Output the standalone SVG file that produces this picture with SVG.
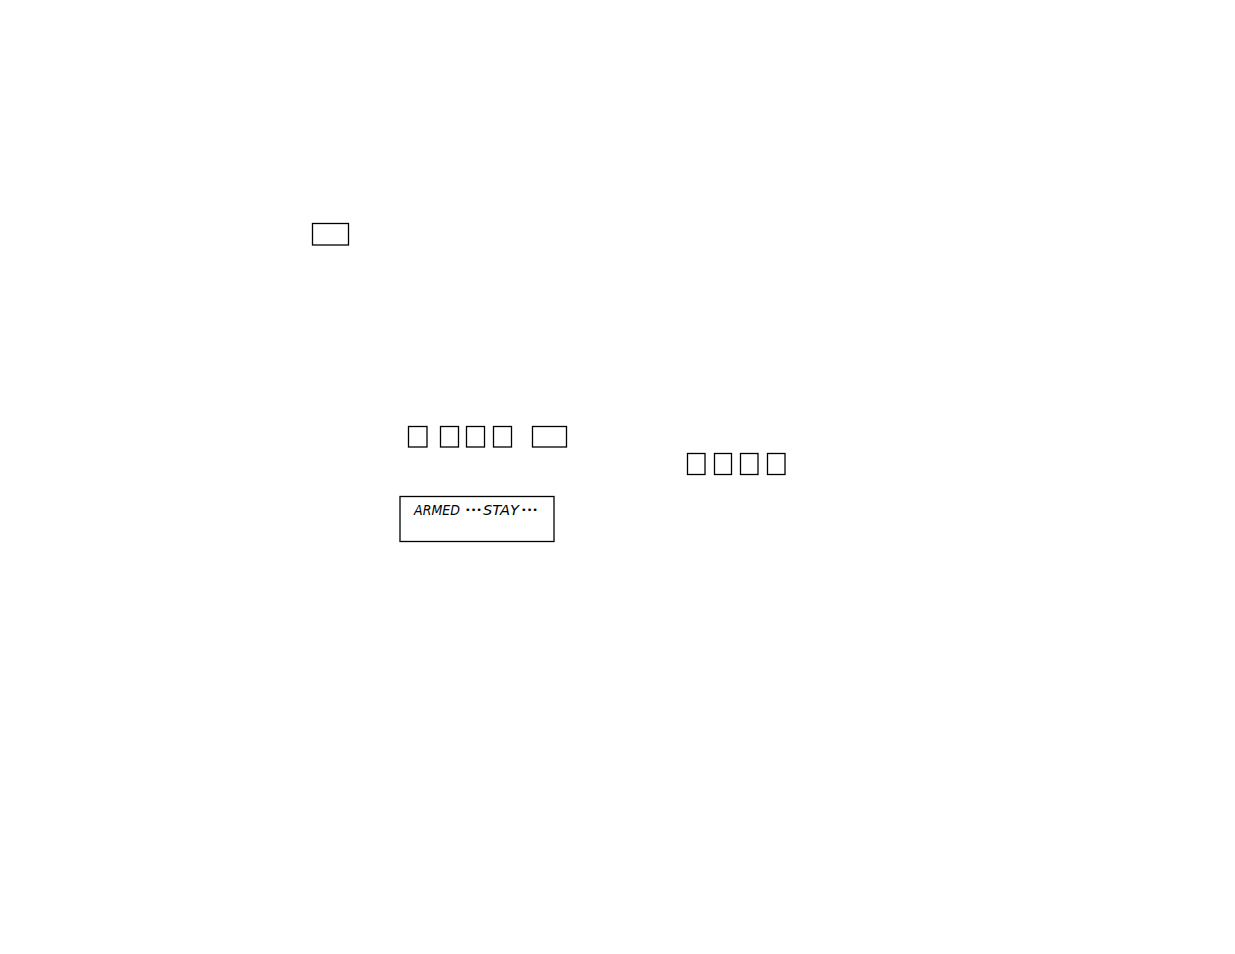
<svg xmlns="http://www.w3.org/2000/svg" width="1235" height="954" viewBox="0 0 1235 954">
<style>
.k{fill:#fff;stroke:#000;stroke-width:1.3}
.lcd{font-family:"DejaVu Sans","Liberation Sans",sans-serif;font-style:italic;font-size:14px;fill:#000}
.dot{font-size:9px}
</style>
<rect width="1235" height="954" fill="#fff"/>
<g id="key-top"><rect class="k" x="312.5" y="223.5" width="36" height="21.5"/></g>
<g id="keys-row1">
<rect class="k" x="408.5" y="426.5" width="18.5" height="20.5"/>
<rect class="k" x="440.5" y="426.5" width="18" height="20.5"/>
<rect class="k" x="466.5" y="426.5" width="18" height="20.5"/>
<rect class="k" x="493.5" y="426.5" width="18" height="20.5"/>
<rect class="k" x="532.5" y="426.5" width="34" height="20.5"/>
</g>
<g id="keys-row2">
<rect class="k" x="687.5" y="453.5" width="17.5" height="21"/>
<rect class="k" x="714.5" y="453.5" width="17" height="21"/>
<rect class="k" x="740.5" y="453.5" width="17.5" height="21"/>
<rect class="k" x="767.5" y="453.5" width="17.5" height="21"/>
</g>
<g id="display">
<rect class="k" x="400" y="496.5" width="154" height="45"/>
<text class="lcd" y="515"><tspan x="414" textLength="46" lengthAdjust="spacingAndGlyphs">ARMED</tspan> <tspan class="dot" x="465" y="513" textLength="17" lengthAdjust="spacingAndGlyphs">•••</tspan><tspan x="483" y="515" textLength="36" lengthAdjust="spacingAndGlyphs">STAY</tspan><tspan class="dot" x="521" y="513" textLength="17" lengthAdjust="spacingAndGlyphs">•••</tspan></text>
</g>
<g id="connectors"/>
</svg>
